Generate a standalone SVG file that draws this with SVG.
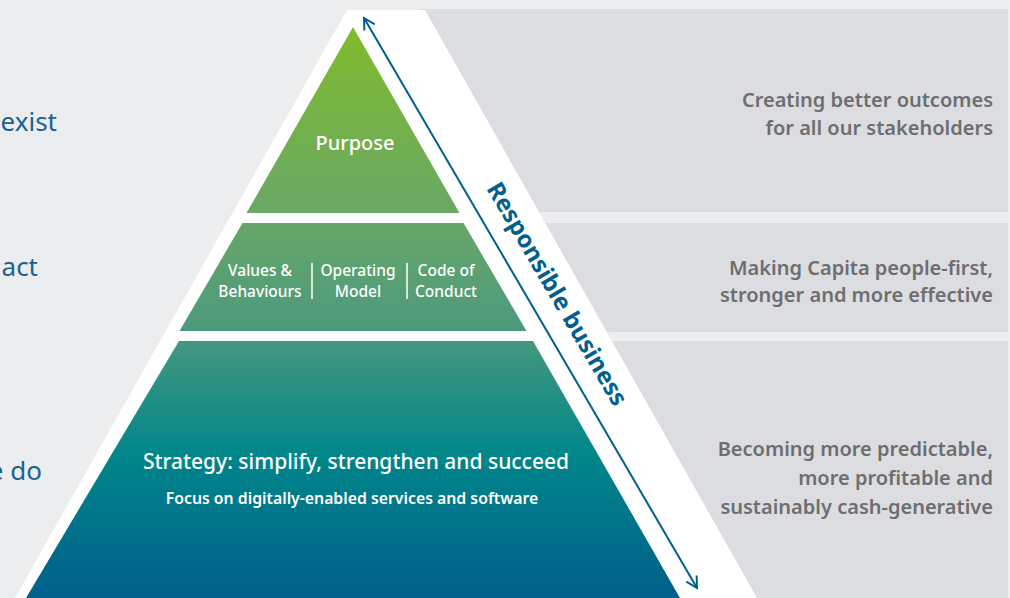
<svg xmlns="http://www.w3.org/2000/svg" width="1010" height="598" viewBox="0 0 1010 598">
<defs>
<linearGradient id="pyr" gradientUnits="userSpaceOnUse" x1="0" y1="27" x2="0" y2="598">
<stop offset="0" stop-color="#80bb2c"/>
<stop offset="0.32" stop-color="#6aa865"/>
<stop offset="0.52" stop-color="#4e9a7c"/>
<stop offset="0.75" stop-color="#00868a"/>
<stop offset="1" stop-color="#005f8c"/>
</linearGradient>
<marker id="chev" viewBox="0 0 14 14" refX="12" refY="7" markerWidth="14" markerHeight="14" markerUnits="userSpaceOnUse" orient="auto-start-reverse">
<path d="M1,1 L12,7 L1,13" fill="none" stroke="#005f8c" stroke-width="2"/>
</marker>
<style>
.left{font-family:"Noto Sans","Open Sans",sans-serif;font-size:26px;fill:#1b6290;text-anchor:end}
.right{font-family:"Noto Sans","Open Sans",sans-serif;font-size:20px;font-weight:600;fill:#6d6e71;text-anchor:end}
.w{font-family:"Noto Sans","Open Sans",sans-serif;fill:#ffffff;text-anchor:middle}
.panel{fill:#dcdde0}
.div{stroke:#ffffff;stroke-width:1.5}
</style>
</defs>
<rect x="0" y="0" width="1010" height="598" fill="#ecedef"/>
<g id="panels">
<rect class="panel" x="420" y="9" width="588" height="203"/>
<rect class="panel" x="420" y="223" width="588" height="109"/>
<rect class="panel" x="420" y="341" width="588" height="257"/>
</g>
<polygon id="white-band" points="347,10 425,10 757,598 15,598" fill="#ffffff"/>
<g id="tier-purpose">
<polygon points="353,27 459.5,213 246.5,213" fill="url(#pyr)"/>
<text class="w" x="355" y="150" font-size="20" font-weight="500">Purpose</text>
</g>
<g id="tier-values">
<polygon points="242.5,223 463.5,223 526.5,331 179.5,331" fill="url(#pyr)"/>
<text class="w" font-size="15.5" font-weight="500"><tspan x="260" y="276">Values &amp;</tspan><tspan x="260" y="297">Behaviours</tspan></text>
<line class="div" x1="312" y1="263" x2="312" y2="299"/>
<text class="w" font-size="15.5" font-weight="500"><tspan x="358" y="276">Operating</tspan><tspan x="358" y="297">Model</tspan></text>
<line class="div" x1="407" y1="263" x2="407" y2="299"/>
<text class="w" font-size="15.5" font-weight="500"><tspan x="446" y="276">Code of</tspan><tspan x="446" y="297">Conduct</tspan></text>
</g>
<g id="tier-strategy">
<polygon points="179,341 533,341 680,598 26,598" fill="url(#pyr)"/>
<text class="w" x="356" y="469" font-size="21" font-weight="500">Strategy: simplify, strengthen and succeed</text>
<text class="w" x="352" y="504" font-size="15.8" font-weight="600">Focus on digitally-enabled services and software</text>
</g>
<g id="connectors">
<line x1="364" y1="18" x2="697" y2="588" stroke="#005f8c" stroke-width="2" marker-start="url(#chev)" marker-end="url(#chev)"/>
</g>
<g id="label-responsible">
<text transform="translate(557,294) rotate(59.7)" x="0" y="8" font-family="Noto Sans, Open Sans, sans-serif" font-size="24" font-weight="700" fill="#005f8c" text-anchor="middle">Responsible business</text>
</g>
<g id="left-labels">
<text class="left" x="57" y="131">exist</text>
<text class="left" x="38" y="276">act</text>
<text class="left" x="42" y="480">e do</text>
</g>
<g id="right-labels">
<text class="right"><tspan x="993" y="107">Creating better outcomes</tspan><tspan x="993" y="135">for all our stakeholders</tspan></text>
<text class="right"><tspan x="993" y="275">Making Capita people-first,</tspan><tspan x="993" y="302">stronger and more effective</tspan></text>
<text class="right"><tspan x="993" y="456">Becoming more predictable,</tspan><tspan x="993" y="485">more profitable and</tspan><tspan x="993" y="514">sustainably cash-generative</tspan></text>
</g>
</svg>
